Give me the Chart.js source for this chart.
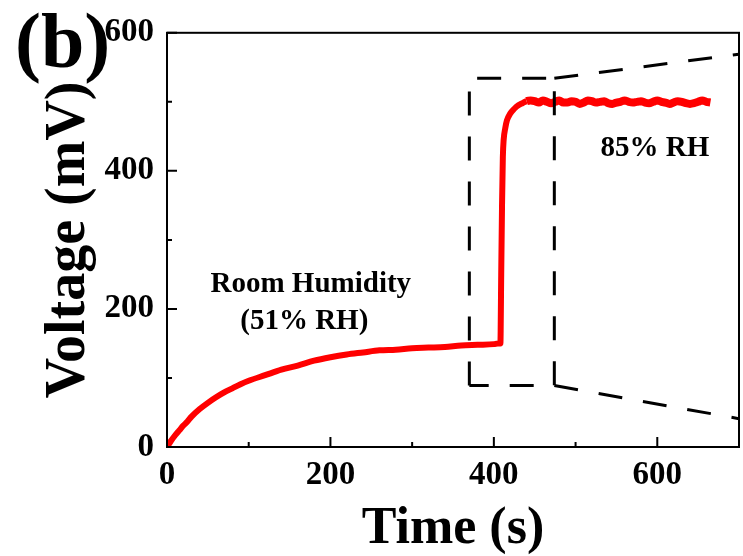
<!DOCTYPE html>
<html>
<head>
<meta charset="utf-8">
<script src="https://cdn.jsdelivr.net/npm/chart.js@4.4.0/dist/chart.umd.min.js"></script>
<style>
html,body{margin:0;padding:0;background:#fff;}
#wrap{width:743px;height:556px;position:relative;}
</style>
</head>
<body>
<div id="wrap"><canvas id="c" width="743" height="556"></canvas></div>
<script>
// ---- data ----
const timeS = [0,5,10,15,20,25,30,
  40,50,60,70,80,90,100,
  120,140,160,180,200,220,240,260,280,300,320,340,360,380,400,
  405,408,409,410,411,412,414,416,
  420,425,430,435,440,445,
  450,455,460,465,470,475,480,485,490,495,500,505,510,515,520,525,530,535,540,545,
  550,555,560,565,570,575,580,585,590,595,600,605,610,615,620,625,630,635,640,645,
  650,655,660,665];
const voltageMV = [0,9,17,24,31,37,44,
  55,64,72,79,85,91,96,
  104,112,118,125,130,134,137,140,141,143,144,145,147,148,149,
  150,150,250,350,420,445,462,473,
  483,490,495,498,501,502,
  501,499,502,500,498,500,502,499,499,501,500,497,499,502,501,499,500,501,498,497,
  499,500,502,500,499,500,501,499,498,500,502,500,499,497,499,501,500,498,497,498,
  500,502,500,499];

// dashed zoom box and guide lines (data units: s, mV)
const boxX = [370, 370, 474, 474, 370];
const boxY = [89, 534, 534, 89, 89];
const upperGuideX = [474, 700];
const upperGuideY = [534, 569];
const lowerGuideX = [474, 700];
const lowerGuideY = [89, 41];

const xMajorTicks = [0, 200, 400, 600];
const xMinorTicks = [100, 300, 500];
const yMajorTicks = [0, 200, 400, 600];
const yMinorTicks = [100, 300, 500];

const noteTexts = ['Room Humidity', '(51% RH)', '85% RH'];
const panelLabel = '(b)';

// ---- helpers ----
const SERIF = '"Liberation Serif", "Times New Roman", serif';
const toPts = (xs, ys) => xs.map((x, i) => ({x: x, y: ys[i]}));
const dashStyle = {borderColor: '#000', borderWidth: 3, borderDash: [24, 21], pointRadius: 0, fill: false, tension: 0, order: 0};

const framePlugin = {
  id: 'frame',
  afterDatasetsDraw(chart) {
    const {ctx, chartArea: a, scales: {x, y}} = chart;
    ctx.save();
    ctx.strokeStyle = '#000';
    ctx.lineWidth = 2;
    ctx.strokeRect(a.left, a.top, a.right - a.left, a.bottom - a.top);
    ctx.beginPath();
    xMajorTicks.forEach(v => { const p = x.getPixelForValue(v); ctx.moveTo(p, a.bottom); ctx.lineTo(p, a.bottom - 10); });
    xMinorTicks.forEach(v => { const p = x.getPixelForValue(v); ctx.moveTo(p, a.bottom); ctx.lineTo(p, a.bottom - 5); });
    yMajorTicks.forEach(v => { const p = y.getPixelForValue(v); ctx.moveTo(a.left, p); ctx.lineTo(a.left + 10, p); });
    yMinorTicks.forEach(v => { const p = y.getPixelForValue(v); ctx.moveTo(a.left, p); ctx.lineTo(a.left + 5, p); });
    ctx.stroke();
    ctx.restore();
  }
};

const notesPlugin = {
  id: 'notes',
  afterDraw(chart) {
    const {ctx, scales: {x, y}} = chart;
    ctx.save();
    ctx.fillStyle = '#000';
    ctx.textAlign = 'center';
    ctx.textBaseline = 'middle';
    ctx.font = 'bold 29px ' + SERIF;
    ctx.fillText(noteTexts[0], x.getPixelForValue(176), y.getPixelForValue(236));
    ctx.fillText(noteTexts[1], x.getPixelForValue(168), y.getPixelForValue(182));
    ctx.fillText(noteTexts[2], x.getPixelForValue(597), y.getPixelForValue(433));
    ctx.font = 'bold 78px ' + SERIF;
    ctx.textAlign = 'left';
    ctx.textBaseline = 'alphabetic';
    ctx.fillText(panelLabel, 15, 67);
    ctx.restore();
  }
};

new Chart(document.getElementById('c'), {
  type: 'line',
  data: {
    datasets: [
      Object.assign({label: 'box', data: toPts(boxX, boxY)}, dashStyle),
      Object.assign({label: 'upper guide', data: toPts(upperGuideX, upperGuideY)}, dashStyle),
      Object.assign({label: 'lower guide', data: toPts(lowerGuideX, lowerGuideY)}, dashStyle),
      {
        label: 'Voltage',
        data: toPts(timeS, voltageMV),
        borderColor: '#ff0000',
        borderWidth: 6,
        segment: {borderWidth: c => (c.p0.parsed.x >= 440 ? 8 : 6)},
        pointRadius: 0,
        fill: false,
        cubicInterpolationMode: 'monotone',
        order: 1
      }
    ]
  },
  options: {
    responsive: false,
    animation: false,
    devicePixelRatio: 1,
    layout: {padding: {top: 27, right: 4, left: 0, bottom: 0}},
    plugins: {legend: {display: false}, tooltip: {enabled: false}},
    scales: {
      x: {
        type: 'linear', min: 0, max: 700,
        afterBuildTicks: s => { s.ticks = xMajorTicks.map(v => ({value: v})); },
        afterFit: s => { s.height = 109; },
        grid: {display: false, drawTicks: false},
        border: {display: false},
        ticks: {padding: 9, color: '#000', maxRotation: 0, autoSkip: false,
                font: {family: SERIF, size: 33, weight: 'bold'}},
        title: {display: true, text: 'Time (s)', color: '#000',
                font: {family: SERIF, size: 52, weight: 'bold', lineHeight: 1},
                padding: {top: 0, bottom: 0}}
      },
      y: {
        type: 'linear', min: 0, max: 600,
        afterBuildTicks: s => { s.ticks = yMajorTicks.map(v => ({value: v})); },
        afterFit: s => { s.width = 167; },
        grid: {display: false, drawTicks: false},
        border: {display: false},
        ticks: {padding: 13, color: '#000', autoSkip: false,
                font: {family: SERIF, size: 33, weight: 'bold'}},
        title: {display: true, text: 'Voltage (mV)', color: '#000',
                font: {family: SERIF, size: 56, weight: 'bold', lineHeight: 1},
                padding: {top: 42, bottom: 0}}
      }
    }
  },
  plugins: [framePlugin, notesPlugin]
});
</script>
</body>
</html>
